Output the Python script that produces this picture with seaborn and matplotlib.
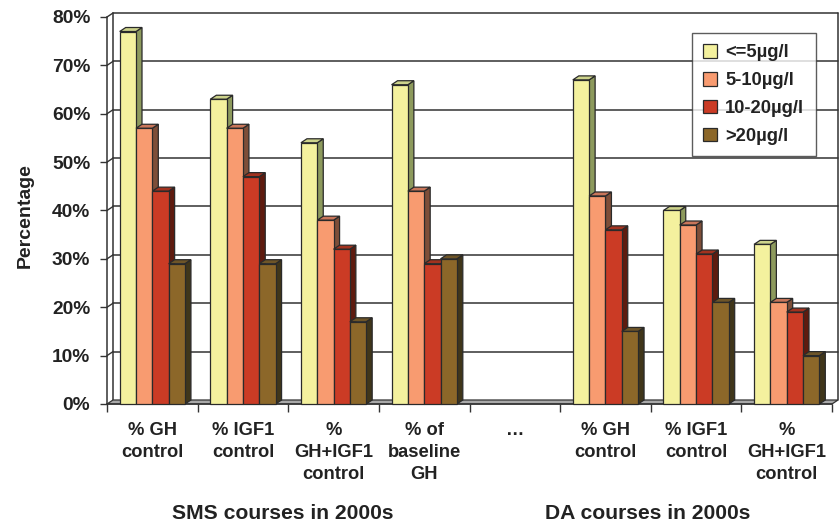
import numpy as np
import pandas as pd
import matplotlib
matplotlib.use("Agg")
import matplotlib.pyplot as plt
from matplotlib.patches import Polygon
import seaborn as sns

# ---- data -------------------------------------------------------------
categories = ["sms_gh", "sms_igf1", "sms_both", "sms_base", "gap",
              "da_gh", "da_igf1", "da_both"]
category_labels = ["% GH\ncontrol", "% IGF1\ncontrol", "%\nGH+IGF1\ncontrol",
                   "% of\nbaseline\nGH", "…", "% GH\ncontrol", "% IGF1\ncontrol",
                   "%\nGH+IGF1\ncontrol"]
series = ["<=5µg/l", "5-10µg/l", "10-20µg/l", ">20µg/l"]
le5 = [77, 63, 54, 66, np.nan, 67, 40, 33]
g5_10 = [57, 57, 38, 44, np.nan, 43, 37, 21]
g10_20 = [44, 47, 32, 29, np.nan, 36, 31, 19]
gt20 = [29, 29, 17, 30, np.nan, 15, 21, 10]
yticks = [0, 10, 20, 30, 40, 50, 60, 70, 80]
group_titles = ["SMS courses in 2000s", "DA courses in 2000s"]

front_colors = ["#F4F19E", "#F89B70", "#CB3B25", "#8C6729"]
side_colors = ["#8D9A5D", "#7E4E38", "#5E1B0F", "#40361A"]
top_colors = ["#CDD38B", "#C9765A", "#A2321F", "#6E5528"]
edge = "#2A2A2A"
text_color = "#222222"

df = pd.DataFrame({
    "category": np.repeat(categories, len(series)),
    "series": series * len(categories),
    "value": np.array([le5, g5_10, g10_20, gt20]).T.ravel(),
})

# ---- figure -----------------------------------------------------------
sns.set_theme(style="white")
plt.rcParams["font.family"] = ["Liberation Sans", "DejaVu Sans"]
plt.rcParams["font.weight"] = "bold"

W, H = 840, 524
fig = plt.figure(figsize=(W / 100, H / 100), dpi=100)
x0, x1, y0, ytop = 107, 832, 404, 17
ax = fig.add_axes([x0 / W, (H - y0) / H, (x1 - x0) / W, (y0 - ytop) / H])
ax.set_xlim(-0.5, len(categories) - 0.5)
ax.set_ylim(0, 80)

# depth of the pseudo-3D boxes, in pixels, converted to data units
DXP, DYP = 6, 4
dx = DXP * len(categories) / (x1 - x0)
dy = DYP * 80 / (y0 - ytop)

sns.barplot(data=df, x="category", y="value", hue="series", order=categories,
            hue_order=series, palette=front_colors, width=0.72, gap=0,
            edgecolor=edge, linewidth=0.9, saturation=1, ax=ax, errorbar=None)

# back wall, floor and left wall
xl, xr = -0.5, len(categories) - 0.5
for v in yticks[1:]:
    ax.plot([xl + dx, xr + dx], [v + dy, v + dy], color="#333333", lw=1.1,
            zorder=1, clip_on=False)
    ax.plot([xl, xl + dx], [v, v + dy], color="#333333", lw=1.0,
            zorder=1, clip_on=False)
for xv in (xl + dx, xr + dx):
    ax.plot([xv, xv], [dy, 80 + dy], color="#333333", lw=1.1, zorder=1,
            clip_on=False)
floor = Polygon([(xl, 0), (xr, 0), (xr + dx, dy), (xl + dx, dy)], closed=True,
                facecolor="#A9A9A9", edgecolor="#333333", lw=0.9, zorder=1.5,
                clip_on=False)
ax.add_patch(floor)

# give every bar a side and a top face, stacked left to right
bars = []
for si, cont in enumerate(ax.containers):
    for p in cont:
        h = p.get_height()
        if np.isnan(h) or h <= 0:
            continue
        bars.append((p.get_x(), si, p))
bars.sort(key=lambda b: b[0])
for k, (bx, si, p) in enumerate(bars):
    w, h = p.get_width(), p.get_height()
    z = 2 + 0.01 * k
    side = Polygon([(bx + w, 0), (bx + w + dx, dy), (bx + w + dx, h + dy),
                    (bx + w, h)], closed=True, facecolor=side_colors[si],
                   edgecolor=edge, lw=0.9, zorder=z, clip_on=False)
    top = Polygon([(bx, h), (bx + w, h), (bx + w + dx, h + dy), (bx + dx, h + dy)],
                  closed=True, facecolor=top_colors[si], edgecolor=edge, lw=0.9,
                  zorder=z, clip_on=False)
    ax.add_patch(side)
    ax.add_patch(top)
    p.set_zorder(z + 0.005)
    p.set_clip_on(False)

# axes styling
for s in ("top", "right"):
    ax.spines[s].set_visible(False)
for s in ("left", "bottom"):
    ax.spines[s].set_color("#333333")
    ax.spines[s].set_linewidth(1.1)
    ax.spines[s].set_zorder(1.6)

ax.set_yticks(yticks)
ax.set_yticklabels([f"{v}%" for v in yticks])
ax.tick_params(axis="y", direction="out", length=5, width=1.0, pad=7,
               colors="#333333", labelcolor=text_color, labelsize=13.8, left=True)
ax.set_xticks(range(len(categories)))
ax.set_xticklabels(category_labels, linespacing=1.38)
ax.set_xticks(np.arange(-0.5, len(categories), 1.0), minor=True)
ax.tick_params(axis="x", which="major", length=0, pad=13, labelsize=13.2,
               labelcolor=text_color)
ax.tick_params(axis="x", which="minor", direction="out", length=6, width=1.0,
               color="#333333", bottom=True)
for lab in ax.get_xticklabels() + ax.get_yticklabels():
    lab.set_fontweight("bold")

ax.set_xlabel("")
ax.set_ylabel("Percentage", fontsize=14, fontweight="bold", color=text_color)
ax.yaxis.set_label_coords(-0.101, 0.486)

fig.text(283 / W, 1 - 519 / H, group_titles[0], ha="center", va="baseline",
         fontsize=15.2, fontweight="bold", color=text_color)
fig.text(648 / W, 1 - 519 / H, group_titles[1], ha="center", va="baseline",
         fontsize=15.2, fontweight="bold", color=text_color)

handles, labels = ax.get_legend_handles_labels()
leg = ax.legend(handles, labels, loc="upper left",
                bbox_to_anchor=(692 / W, 1 - 33 / H), bbox_transform=fig.transFigure,
                prop={"weight": "bold", "size": 13.2}, frameon=True, fancybox=False,
                edgecolor="#333333", handlelength=0.75, handleheight=0.75,
                handletextpad=0.45, labelspacing=0.58, borderpad=0.62,
                borderaxespad=0)
leg.get_frame().set_linewidth(1.0)
leg.set_zorder(10)
for t in leg.get_texts():
    t.set_color(text_color)

fig.savefig("out.png", dpi=100, facecolor="white")
